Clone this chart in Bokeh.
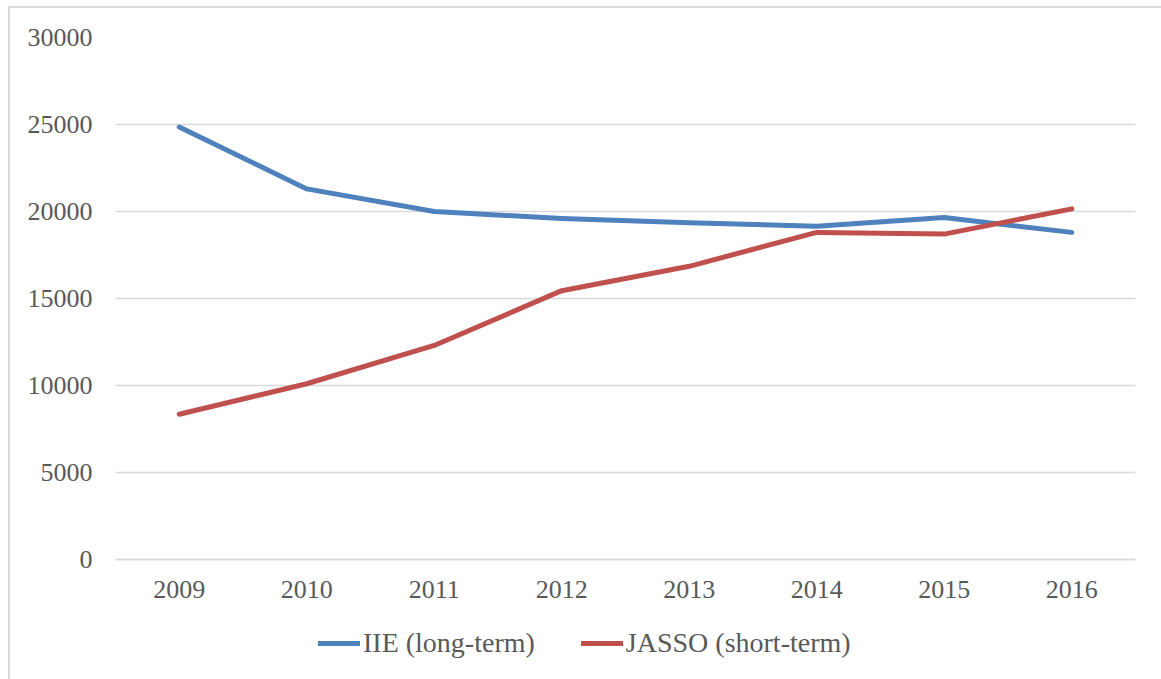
from bokeh.plotting import figure
from bokeh.models import Range1d, Legend, LegendItem, ColumnDataSource
from bokeh.embed import file_html
from bokeh.resources import INLINE

years = ["2009", "2010", "2011", "2012", "2013", "2014", "2015", "2016"]
iie = [24850, 21300, 20000, 19600, 19350, 19150, 19650, 18800]
jasso = [8350, 10100, 12300, 15450, 16850, 18800, 18700, 20150]
y_ticks = [0, 5000, 10000, 15000, 20000, 25000, 30000]
series_names = ["IIE (long-term)", "JASSO (short-term)"]

FONT = "Liberation Serif"
TXT = "#595959"
GRID = "#d9d9d9"

# plot area: 522 px for 0..30000, plus 120 px below zero reserved for the legend
Y_MAX = 30000
Y_MIN = -Y_MAX * 120 / 522

src = ColumnDataSource(dict(year=years, iie=iie, jasso=jasso))

p = figure(frame_width=1020, frame_height=642, x_range=years, y_range=Range1d(Y_MIN, Y_MAX),
           output_backend="svg", toolbar_location=None,
           min_border_left=105, min_border_right=26, min_border_top=29,
           min_border_bottom=0)
p.styles = {"margin-left": "8px", "margin-top": "6px",
            "border-left": "2px solid #d9d9d9", "border-top": "2px solid #d9d9d9"}
p.outline_line_color = None
p.background_fill_color = "white"
p.border_fill_color = "white"

r1 = p.line("year", "iie", source=src, line_color="#4F81BD", line_width=5, line_cap="round", line_join="round")
r2 = p.line("year", "jasso", source=src, line_color="#C0504D", line_width=5, line_cap="round", line_join="round")

p.yaxis.ticker = y_ticks
p.yaxis.axis_line_color = None
p.yaxis.major_tick_line_color = None
p.yaxis.minor_tick_line_color = None
p.yaxis.major_label_standoff = 17
p.yaxis.major_label_text_font = FONT
p.yaxis.major_label_text_font_size = "26px"
p.yaxis.major_label_text_color = TXT

p.xaxis.fixed_location = 0
p.xaxis.axis_line_color = GRID
p.xaxis.axis_line_width = 1.5
p.xaxis.major_tick_line_color = None
p.xaxis.minor_tick_line_color = None
p.xaxis.major_label_standoff = 15
p.xaxis.major_label_text_font = FONT
p.xaxis.major_label_text_font_size = "26px"
p.xaxis.major_label_text_color = TXT

p.xgrid.grid_line_color = None
p.ygrid.grid_line_color = GRID
p.ygrid.grid_line_width = 1.5

legend = Legend(items=[LegendItem(label=series_names[0], renderers=[r1]),
                       LegendItem(label=series_names[1], renderers=[r2])],
                orientation="horizontal", location=(203, 20),
                border_line_color=None, background_fill_alpha=0,
                padding=0, margin=0, spacing=46, label_standoff=3,
                glyph_width=42, glyph_height=20,
                label_text_font=FONT, label_text_font_size="28px",
                label_text_color=TXT)
p.add_layout(legend, "center")

open("out.html", "w").write(file_html(p, INLINE))
